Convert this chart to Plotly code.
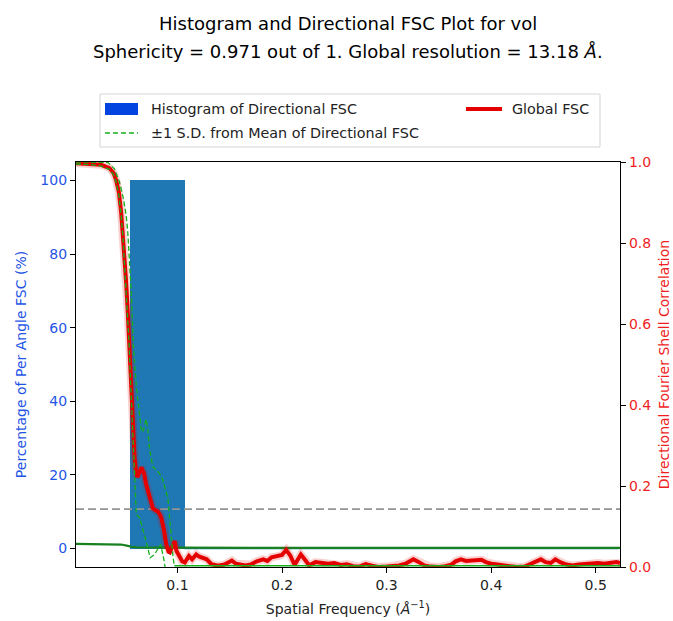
import plotly.graph_objects as go

# ---- data -------------------------------------------------------------
# Global FSC curve (spatial frequency in 1/Å, correlation)
freq_global = [0.003, 0.010, 0.019, 0.027, 0.035, 0.039, 0.0414, 0.044, 0.0462, 0.048,
               0.0494, 0.051, 0.0525, 0.0538, 0.0548, 0.0558, 0.0566, 0.0575, 0.059, 0.0605,
               0.0616, 0.0635, 0.0654, 0.0668, 0.068, 0.070, 0.0717, 0.0733, 0.0750, 0.0765,
               0.079, 0.0813, 0.0835, 0.0846, 0.087, 0.0893, 0.0915, 0.0928, 0.0947, 0.0965,
               0.0975, 0.099, 0.102, 0.1045, 0.107, 0.111, 0.114, 0.118, 0.1205, 0.123,
               0.128, 0.1325, 0.139, 0.145, 0.152, 0.156, 0.160, 0.165, 0.170, 0.176,
               0.182, 0.186, 0.190, 0.196, 0.200, 0.204, 0.208, 0.212, 0.218, 0.222,
               0.226, 0.232, 0.238, 0.244, 0.250, 0.256, 0.262, 0.268, 0.274, 0.280,
               0.286, 0.292, 0.300, 0.306, 0.312, 0.318, 0.3256, 0.331, 0.336, 0.342,
               0.350, 0.356, 0.362, 0.366, 0.371, 0.376, 0.381, 0.386, 0.3906, 0.395,
               0.400, 0.406, 0.412, 0.418, 0.425, 0.432, 0.438, 0.4475, 0.452, 0.457,
               0.4614, 0.466, 0.472, 0.478, 0.484, 0.490, 0.496, 0.502, 0.508, 0.514,
               0.520, 0.5232]
fsc_global = [0.997, 0.996, 0.995, 0.993, 0.985, 0.972, 0.955, 0.925, 0.875, 0.820,
              0.760, 0.700, 0.630, 0.560, 0.490, 0.420, 0.360, 0.310, 0.270, 0.235,
              0.222, 0.232, 0.246, 0.238, 0.232, 0.205, 0.190, 0.167, 0.152, 0.145,
              0.140, 0.137, 0.128, 0.121, 0.093, 0.056, 0.038, 0.036, 0.048, 0.062,
              0.064, 0.040, 0.024, 0.014, 0.011, 0.027, 0.019, 0.031, 0.026, 0.024,
              0.019, 0.007, 0.003, 0.006, 0.016, 0.008, 0.007, 0.004, 0.006, 0.014,
              0.019, 0.015, 0.024, 0.027, 0.030, 0.042, 0.028, 0.005, 0.031, 0.018,
              0.004, 0.012, 0.010, 0.008, 0.010, 0.005, 0.007, 0.002, 0.001, 0.007,
              0.003, 0.000, 0.001, 0.002, 0.004, 0.008, 0.019, 0.012, 0.004, 0.001,
              0.000, 0.002, 0.006, 0.014, 0.019, 0.015, 0.016, 0.017, 0.018, 0.012,
              0.008, 0.006, 0.005, 0.002, 0.000, 0.001, 0.008, 0.019, 0.012, 0.010,
              0.019, 0.012, 0.006, 0.004, 0.006, 0.007, 0.010, 0.010, 0.008, 0.010,
              0.012, 0.010]

# Mean + 1 S.D. of the directional FSC
freq_upper = [0.003, 0.019, 0.030, 0.0334, 0.0398, 0.0446, 0.0484, 0.051, 0.0525, 0.0535,
              0.0558, 0.0573, 0.058, 0.0606, 0.0621, 0.0654, 0.067, 0.070, 0.0717, 0.0733,
              0.0765, 0.0798, 0.0846, 0.0877, 0.091, 0.0925, 0.0941, 0.0957, 0.0970]
sd_upper = [1.000, 1.000, 1.000, 0.999, 0.983, 0.950, 0.909, 0.868, 0.827, 0.786,
            0.680, 0.585, 0.540, 0.448, 0.415, 0.340, 0.333, 0.365, 0.340, 0.291,
            0.247, 0.240, 0.225, 0.200, 0.167, 0.118, 0.068, 0.027, 0.002]
# beyond ~0.1 1/Å the upper bound sits on the zero line
freq_upper_tail = [0.0970, 0.15, 0.25, 0.35, 0.45, 0.5232]
sd_upper_tail = [0.003, 0.003, 0.003, 0.003, 0.003, 0.003]

# Mean - 1 S.D. of the directional FSC
freq_lower = [0.003, 0.019, 0.027, 0.035, 0.039, 0.0414, 0.044, 0.0462, 0.048, 0.0494,
              0.051, 0.0525, 0.0538, 0.0548, 0.0558, 0.0575, 0.059, 0.0606, 0.0638, 0.0686,
              0.0717, 0.074, 0.078, 0.081, 0.084, 0.087, 0.0884, 0.090]
sd_lower = [0.995, 0.993, 0.990, 0.982, 0.968, 0.950, 0.918, 0.868, 0.810, 0.750,
            0.690, 0.620, 0.550, 0.480, 0.410, 0.320, 0.234, 0.130, 0.122, 0.077,
            0.044, 0.023, 0.031, 0.044, 0.056, 0.019, 0.000, -0.030]

# Per-angle baseline (% of angles), left axis
freq_base = [0.003, 0.020, 0.040, 0.046, 0.0515, 0.056, 0.062, 0.070, 0.10, 0.20, 0.30, 0.40, 0.5232]
pct_base = [1.3, 1.3, 1.25, 1.1, 0.8, 0.5, 0.35, 0.3, 0.25, 0.2, 0.2, 0.2, 0.2]

# Histogram of directional resolution (bin edges in 1/Å, percentage per bin)
hist_edges = [0.003, 0.0549, 0.1068, 0.1587, 0.2106, 0.2625, 0.3144, 0.3663, 0.4182, 0.4701, 0.5220]
hist_pct = [0, 100, 0, 0, 0, 0, 0, 0, 0, 0]

fsc_threshold = 0.143
x_limits = [0.003, 0.5232]
x_ticks = [0.1, 0.2, 0.3, 0.4, 0.5]
x_tick_labels = ["0.1", "0.2", "0.3", "0.4", "0.5"]
left_ticks = [0, 20, 40, 60, 80, 100]
right_ticks = [0.0, 0.2, 0.4, 0.6, 0.8, 1.0]
right_tick_labels = ["0.0", "0.2", "0.4", "0.6", "0.8", "1.0"]

sphericity = 0.971
global_resolution = 13.18

# ---- styling ----------------------------------------------------------
FONT = "DejaVu Sans"
BAR_BLUE = "#1f77b4"
PATCH_BLUE = "#0343df"
FSC_RED = "#e50000"
SD_GREEN = "#15b01a"
BASE_GREEN = "#17801f"
GREY = "#929591"
LEFT_LABEL = "#1f55e6"
RIGHT_LABEL = "#f01e1e"

W, H = 673, 621
ML, MR, MT, MB = 76, 53, 162, 54
PW, PH = W - ML - MR, H - MT - MB


def px_x(X):
    return (X - ML) / PW


def px_y(Y):
    return (H - MB - Y) / PH


fig = go.Figure()

# histogram bars
centers = [(a + b) / 2 for a, b in zip(hist_edges[:-1], hist_edges[1:])]
widths = [b - a for a, b in zip(hist_edges[:-1], hist_edges[1:])]
fig.add_trace(go.Bar(x=centers, y=hist_pct, width=widths, marker=dict(color=BAR_BLUE, line=dict(width=0)),
                     yaxis="y", showlegend=False, hoverinfo="skip"))
# empty bins sit on the zero line
fig.add_trace(go.Scatter(x=[hist_edges[2], hist_edges[-1]], y=[0, 0], mode="lines",
                         line=dict(color=BAR_BLUE, width=1.2), yaxis="y", showlegend=False, hoverinfo="skip"))
fig.add_trace(go.Scatter(x=freq_base, y=pct_base, mode="lines",
                         line=dict(color=BASE_GREEN, width=2.2), yaxis="y", showlegend=False))

# right axis: FSC curves
fig.add_trace(go.Scatter(x=x_limits, y=[fsc_threshold, fsc_threshold], mode="lines",
                         line=dict(color=GREY, width=1.6, dash="8px,4px"), yaxis="y2", showlegend=False))
fig.add_trace(go.Scatter(x=freq_global, y=fsc_global, mode="lines",
                         line=dict(color="rgba(229,0,0,0.18)", width=8), yaxis="y2", showlegend=False,
                         hoverinfo="skip"))
fig.add_trace(go.Scatter(x=freq_global, y=fsc_global, mode="lines",
                         line=dict(color=FSC_RED, width=4), yaxis="y2", showlegend=False))
fig.add_trace(go.Scatter(x=freq_upper, y=sd_upper, mode="lines",
                         line=dict(color=SD_GREEN, width=1.3, dash="5px,2.5px"), yaxis="y2", showlegend=False))
fig.add_trace(go.Scatter(x=freq_upper_tail, y=sd_upper_tail, mode="lines",
                         line=dict(color=SD_GREEN, width=1.5), yaxis="y2", showlegend=False))
fig.add_trace(go.Scatter(x=freq_lower, y=sd_lower, mode="lines",
                         line=dict(color=SD_GREEN, width=1.3, dash="5px,2.5px"), yaxis="y2", showlegend=False))

axis_common = dict(showgrid=False, zeroline=False, showline=True, linecolor="black", linewidth=1.2,
                   ticks="outside", ticklen=5, tickwidth=1, tickcolor="black", automargin=False)

fig.update_layout(
    width=W, height=H,
    margin=dict(l=ML, r=MR, t=MT, b=MB),
    paper_bgcolor="white", plot_bgcolor="white",
    font=dict(family=FONT, size=14, color="black"),
    bargap=0,
    xaxis=dict(range=x_limits, tickvals=x_ticks, ticktext=x_tick_labels, mirror=True,
               tickfont=dict(size=14, color="#222222"),
               title=dict(text="Spatial Frequency (<i>Å</i><sup>−1</sup>)", standoff=12,
                          font=dict(size=14, color="#222222")),
               **axis_common),
    yaxis=dict(range=[-5, 105], tickvals=left_ticks, tickfont=dict(size=14, color=LEFT_LABEL),
               title=dict(text="Percentage of Per Angle FSC (%)", standoff=10,
                          font=dict(size=14, color=LEFT_LABEL)),
               **axis_common),
    yaxis2=dict(range=[0, 1], overlaying="y", side="right", tickvals=right_ticks, ticktext=right_tick_labels,
                tickfont=dict(size=14, color=RIGHT_LABEL),
                title=dict(text="Directional Fourier Shell Correlation", standoff=8,
                           font=dict(size=14, color=RIGHT_LABEL)),
                **axis_common),
)

# title
fig.add_annotation(text="Histogram and Directional FSC Plot for vol", xref="paper", yref="paper",
                   x=0.5, y=px_y(23), xanchor="center", yanchor="middle", showarrow=False,
                   font=dict(size=18, color="black"))
fig.add_annotation(text=f"Sphericity = {sphericity} out of 1. Global resolution = {global_resolution} <i>Å</i>.",
                   xref="paper", yref="paper", x=0.5, y=px_y(52), xanchor="center", yanchor="middle",
                   showarrow=False, font=dict(size=18, color="black"))

# legend (two columns)
shapes = [
    dict(type="rect", xref="paper", yref="paper", x0=px_x(100), x1=px_x(600), y0=px_y(147), y1=px_y(94),
         line=dict(color="#d5d5d5", width=1), fillcolor="rgba(255,255,255,0.85)", layer="above"),
    dict(type="rect", xref="paper", yref="paper", x0=px_x(105), x1=px_x(138), y0=px_y(115), y1=px_y(103),
         line=dict(width=0), fillcolor=PATCH_BLUE, layer="above"),
    dict(type="line", xref="paper", yref="paper", x0=px_x(105), x1=px_x(138), y0=px_y(133), y1=px_y(133),
         line=dict(color=SD_GREEN, width=1.6, dash="5px,3px"), layer="above"),
    dict(type="line", xref="paper", yref="paper", x0=px_x(466), x1=px_x(502), y0=px_y(109), y1=px_y(109),
         line=dict(color=FSC_RED, width=4), layer="above"),
]
fig.update_layout(shapes=shapes)
for text, X, Y in [("Histogram of Directional FSC", 149, 109),
                   ("±1 S.D. from Mean of Directional FSC", 149, 133),
                   ("Global FSC", 510, 109)]:
    fig.add_annotation(text=text, xref="paper", yref="paper", x=px_x(X), y=px_y(Y),
                       xanchor="left", yanchor="middle", showarrow=False,
                       font=dict(size=14.3, color="#222222"))

fig.write_html("out.html")
